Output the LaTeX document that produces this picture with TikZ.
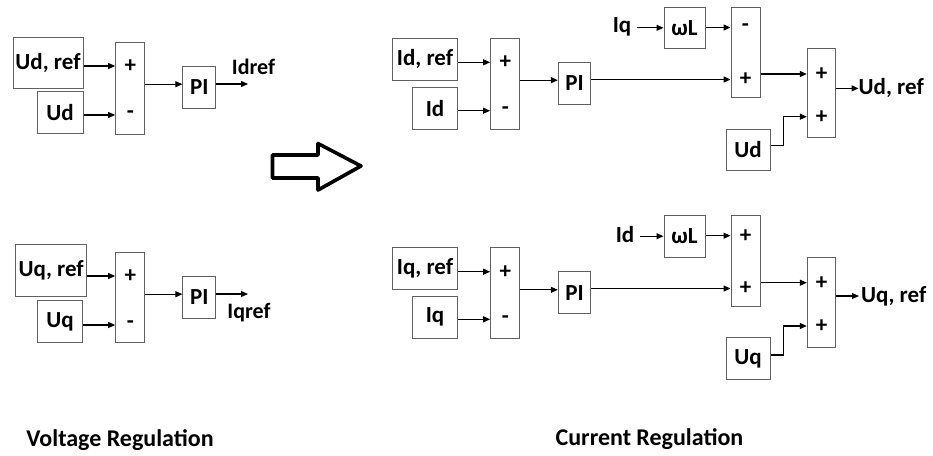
\documentclass[tikz,border=0pt]{standalone}
\usepackage{fontspec}
\setmainfont{Carlito}
\usetikzlibrary{arrows.meta,calc}
\begin{document}
\begin{tikzpicture}[x=1pt,y=-1pt,
  blk/.style={draw=black!62, line width=1pt, inner sep=0pt, font=\fontsize{23}{26}\selectfont\bfseries},
  lbl/.style={inner sep=0pt, font=\fontsize{23}{26}\selectfont\bfseries},
  sml/.style={inner sep=0pt, font=\fontsize{22}{25}\selectfont\bfseries},
  ttl/.style={inner sep=0pt, font=\fontsize{24}{28}\selectfont\bfseries},
  arr/.style={-{Triangle[length=7pt,width=6pt]}, line width=1.1pt},
  ln/.style={line width=1.1pt}]
\useasboundingbox (0,0) rectangle (933,455);

% ================= Voltage regulation, d axis =================
\node[blk, minimum width=70pt, minimum height=51pt] (udref) at (48,62.5) {Ud, ref};
\node[blk, minimum width=46pt, minimum height=42pt] (ud) at (60,112.8) {Ud};
\node[blk, minimum width=29.3pt, minimum height=91.7pt] (s1) at (130.3,88.2) {};
\node[lbl] (s1a) at (130.3,66) {+};
\node[lbl] (s1b) at (130.3,115) {-};
\node[blk, minimum width=32.7pt, minimum height=41.6pt] (pi1) at (199.3,87.5) {PI};
\coordinate (e1) at (248,84);
\node[sml] (idreft) at (253.5,66.5) {Idref};
\draw[arr] (udref.east |- s1a) -- (s1.west |- s1a);
\draw[arr] (ud.east |- s1b) -- (s1.west |- s1b);
\coordinate (a1) at ($(pi1.west)+(0,-3.3)$);
\draw[arr] (s1.east |- a1) -- (a1);
\draw[arr] (pi1.east |- e1) -- (e1);

% ================= Voltage regulation, q axis =================
\node[blk, minimum width=71pt, minimum height=51.7pt] (uqref) at (51.2,270.8) {Uq, ref};
\node[blk, minimum width=45.4pt, minimum height=42pt] (uq) at (60,321.7) {Uq};
\node[blk, minimum width=29.3pt, minimum height=90.4pt] (s2) at (130.3,297.5) {};
\node[lbl] (s2a) at (130.3,276) {+};
\node[lbl] (s2b) at (130.3,325) {-};
\node[blk, minimum width=32.7pt, minimum height=42.3pt] (pi2) at (199.3,297.2) {PI};
\coordinate (e2) at (248,294);
\node[sml] (iqreft) at (249,313) {Iqref};
\draw[arr] (uqref.east |- s2a) -- (s2.west |- s2a);
\draw[arr] (uq.east |- s2b) -- (s2.west |- s2b);
\coordinate (a2) at ($(pi2.west)+(0,-3)$);
\draw[arr] (s2.east |- a2) -- (a2);
\draw[arr] (pi2.east |- e2) -- (e2);

% ================= big hollow arrow =================
\draw[line width=3.6pt, line join=round] (272.5,155) -- (318,155) -- (318,143.5) -- (361,166) -- (318,190) -- (318,178) -- (272.5,178) -- cycle;

% ================= Current regulation, d axis =================
\node[blk, minimum width=65.4pt, minimum height=41.7pt] (idref) at (425,59.2) {Id, ref};
\node[blk, minimum width=45.4pt, minimum height=41.6pt] (id) at (435,108.5) {Id};
\node[blk, minimum width=29.3pt, minimum height=91pt] (s3) at (505.3,83.8) {};
\node[lbl] (s3a) at (505.3,62.3) {+};
\node[lbl] (s3b) at (505.3,110.7) {-};
\node[blk, minimum width=32.4pt, minimum height=41.7pt] (pi3) at (574.5,83.2) {PI};
\node[lbl] (iqt) at (622,27) {Iq};
\node[blk, minimum width=41pt, minimum height=41pt] (wl1) at (684.5,27.8) {ωL};
\node[blk, minimum width=29pt, minimum height=90.4pt] (s4) at (745.5,52.5) {};
\node[lbl] (s4a) at (745.5,27.5) {-};
\node[lbl] (s4b) at (745.5,79.5) {+};
\node[blk, minimum width=28.4pt, minimum height=89.4pt] (s5) at (821.5,93) {};
\node[lbl] (s5a) at (821.5,74) {+};
\node[lbl] (s5b) at (821.5,116.7) {+};
\node[blk, minimum width=44pt, minimum height=41.4pt] (ud2) at (748,150) {Ud};
\coordinate (o3) at ($(s5.east)+(0,-4.6)$);
\node[lbl, anchor=west] (udout) at (858.5,88.4) {Ud, ref};

\draw[arr] (idref.east |- s3a) -- (s3.west |- s3a);
\draw[arr] (id.east |- s3b) -- (s3.west |- s3b);
\coordinate (a3) at ($(pi3.west)+(0,-3)$);
\draw[arr] (s3.east |- a3) -- (a3);
\draw[arr] (pi3.east |- s4b) -- (s4.west |- s4b);
\draw[arr] ([xshift=6pt]iqt.east |- wl1.west) -- (wl1.west);
\draw[arr] (wl1.east |- s4a) -- (s4.west |- s4a);
\draw[arr] (s4.east |- s5a) -- (s5.west |- s5a);
\draw[arr] ($(ud2.east)+(0,-4.3)$) -- ++(12.7,0) |- (s5.west |- s5b);
\draw[arr] (o3) -- (udout.west |- o3);

% ================= Current regulation, q axis =================
\node[blk, minimum width=65.4pt, minimum height=41.6pt] (iqref) at (425,268.5) {Iq, ref};
\node[blk, minimum width=45.4pt, minimum height=42.3pt] (iq) at (435,317.2) {Iq};
\node[blk, minimum width=29.3pt, minimum height=90.6pt] (s6) at (505.3,293) {};
\node[lbl] (s6a) at (505.3,271.7) {+};
\node[lbl] (s6b) at (505.3,319.3) {-};
\node[blk, minimum width=32.4pt, minimum height=42.3pt] (pi4) at (574.5,292.8) {PI};
\node[lbl] (idt) at (625,235) {Id};
\node[blk, minimum width=41pt, minimum height=42.3pt] (wl2) at (684.5,236.2) {ωL};
\node[blk, minimum width=29pt, minimum height=91pt] (s7) at (745.5,260.5) {};
\node[lbl] (s7a) at (745.5,235.7) {+};
\node[lbl] (s7b) at (745.5,288.5) {+};
\node[blk, minimum width=28.4pt, minimum height=89.6pt] (s8) at (821.5,302.5) {};
\node[lbl] (s8a) at (821.5,282.7) {+};
\node[lbl] (s8b) at (821.5,326) {+};
\node[blk, minimum width=44pt, minimum height=42.3pt] (uq2) at (748,358.8) {Uq};
\coordinate (o4) at ($(s8.east)+(0,-6.5)$);
\node[lbl, anchor=west] (uqout) at (861,296) {Uq, ref};

\draw[arr] (iqref.east |- s6a) -- (s6.west |- s6a);
\draw[arr] (iq.east |- s6b) -- (s6.west |- s6b);
\coordinate (a6) at ($(pi4.west)+(0,-3)$);
\draw[arr] (s6.east |- a6) -- (a6);
\draw[arr] (pi4.east |- s7b) -- (s7.west |- s7b);
\draw[arr] ([xshift=6pt]idt.east |- wl2.west) -- (wl2.west);
\draw[arr] (wl2.east |- s7a) -- (s7.west |- s7a);
\draw[arr] (s7.east |- s8a) -- (s8.west |- s8a);
\draw[arr] ($(uq2.east)+(0,-3.8)$) -- ++(12.7,0) |- (s8.west |- s8b);
\draw[arr] (o4) -- ([xshift=-2pt]uqout.west |- o4);

% ================= titles =================
\node[ttl] (vt) at (120,440) {Voltage Regulation};
\node[ttl] (ct) at (649.5,439) {Current Regulation};
\end{tikzpicture}
\end{document}
